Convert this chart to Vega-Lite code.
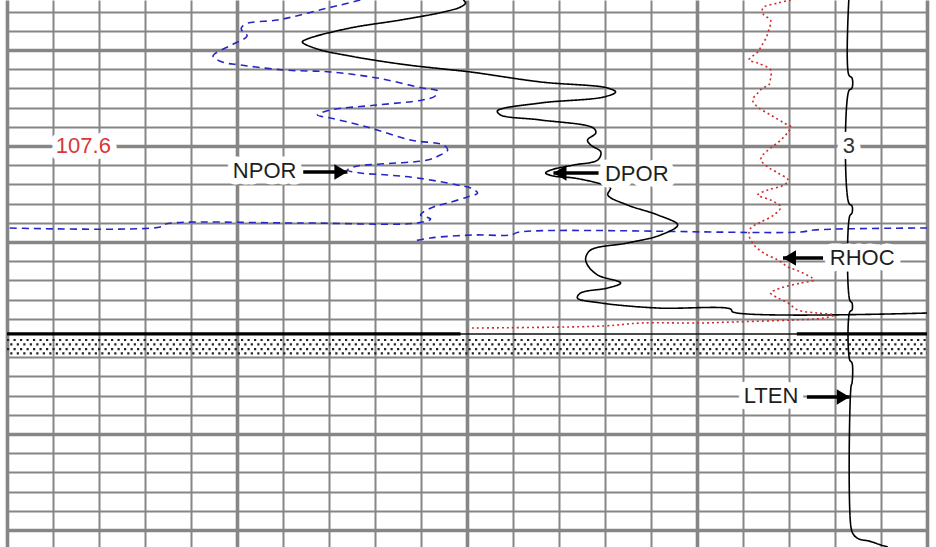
{
  "$schema": "https://vega.github.io/schema/vega-lite/v6.json",
  "width": 920,
  "height": 547,
  "autosize": "none",
  "padding": {"left": 7, "right": 9, "top": 0, "bottom": 0},
  "background": "#ffffff",
  "config": {"view": {"stroke": null}},
  "resolve": {"scale": {"color": "independent"}},
  "datasets": {
    "stipple": [
      {"row": 0, "x": 0, "x_end": 20, "depth": 109.621},
      {"row": 1, "x": 0, "x_end": 20, "depth": 109.667},
      {"row": 2, "x": 0, "x_end": 20, "depth": 109.715},
      {"row": 3, "x": 0, "x_end": 20, "depth": 109.761}
    ],
    "base_thin": [
      {"x": 0, "x_end": 20, "depth": 109.558}
    ],
    "base_heavy": [
      {"x": 0, "x_end": 9.86, "depth": 109.558},
      {"x": 17.17, "x_end": 20, "depth": 109.558}
    ],
    "logs": [
      {"c": "NPOR", "s": "NPOR-1", "i": 1, "x": 7.68, "depth": 106.079},
      {"c": "NPOR", "s": "NPOR-1", "i": 2, "x": 7.25, "depth": 106.131},
      {"c": "NPOR", "s": "NPOR-1", "i": 3, "x": 6.88, "depth": 106.173},
      {"c": "NPOR", "s": "NPOR-1", "i": 4, "x": 6.38, "depth": 106.235},
      {"c": "NPOR", "s": "NPOR-1", "i": 5, "x": 5.88, "depth": 106.288},
      {"c": "NPOR", "s": "NPOR-1", "i": 6, "x": 5.18, "depth": 106.329},
      {"c": "NPOR", "s": "NPOR-1", "i": 7, "x": 5.09, "depth": 106.381},
      {"c": "NPOR", "s": "NPOR-1", "i": 8, "x": 5.22, "depth": 106.454},
      {"c": "NPOR", "s": "NPOR-1", "i": 9, "x": 4.92, "depth": 106.538},
      {"c": "NPOR", "s": "NPOR-1", "i": 10, "x": 4.48, "depth": 106.663},
      {"c": "NPOR", "s": "NPOR-1", "i": 11, "x": 4.68, "depth": 106.725},
      {"c": "NPOR", "s": "NPOR-1", "i": 12, "x": 5.07, "depth": 106.756},
      {"c": "NPOR", "s": "NPOR-1", "i": 13, "x": 6.01, "depth": 106.808},
      {"c": "NPOR", "s": "NPOR-1", "i": 14, "x": 7.03, "depth": 106.829},
      {"c": "NPOR", "s": "NPOR-1", "i": 15, "x": 8.05, "depth": 106.892},
      {"c": "NPOR", "s": "NPOR-1", "i": 16, "x": 9.03, "depth": 106.996},
      {"c": "NPOR", "s": "NPOR-1", "i": 17, "x": 9.36, "depth": 107.027},
      {"c": "NPOR", "s": "NPOR-1", "i": 18, "x": 9.31, "depth": 107.079},
      {"c": "NPOR", "s": "NPOR-1", "i": 19, "x": 9.03, "depth": 107.121},
      {"c": "NPOR", "s": "NPOR-1", "i": 20, "x": 8.05, "depth": 107.173},
      {"c": "NPOR", "s": "NPOR-1", "i": 21, "x": 7.03, "depth": 107.225},
      {"c": "NPOR", "s": "NPOR-1", "i": 22, "x": 6.75, "depth": 107.277},
      {"c": "NPOR", "s": "NPOR-1", "i": 23, "x": 7.03, "depth": 107.308},
      {"c": "NPOR", "s": "NPOR-1", "i": 24, "x": 7.83, "depth": 107.402},
      {"c": "NPOR", "s": "NPOR-1", "i": 25, "x": 8.77, "depth": 107.538},
      {"c": "NPOR", "s": "NPOR-1", "i": 26, "x": 9.49, "depth": 107.590},
      {"c": "NPOR", "s": "NPOR-1", "i": 27, "x": 9.58, "depth": 107.642},
      {"c": "NPOR", "s": "NPOR-1", "i": 28, "x": 9.42, "depth": 107.694},
      {"c": "NPOR", "s": "NPOR-1", "i": 29, "x": 9.14, "depth": 107.746},
      {"c": "NPOR", "s": "NPOR-1", "i": 30, "x": 8.12, "depth": 107.788},
      {"c": "NPOR", "s": "NPOR-1", "i": 31, "x": 7.62, "depth": 107.808},
      {"c": "NPOR", "s": "NPOR-1", "i": 32, "x": 7.40, "depth": 107.850},
      {"c": "NPOR", "s": "NPOR-1", "i": 33, "x": 7.68, "depth": 107.881},
      {"c": "NPOR", "s": "NPOR-1", "i": 34, "x": 8.27, "depth": 107.902},
      {"c": "NPOR", "s": "NPOR-1", "i": 35, "x": 8.92, "depth": 107.933},
      {"c": "NPOR", "s": "NPOR-1", "i": 36, "x": 9.79, "depth": 108.006},
      {"c": "NPOR", "s": "NPOR-1", "i": 37, "x": 10.08, "depth": 108.038},
      {"c": "NPOR", "s": "NPOR-1", "i": 38, "x": 10.23, "depth": 108.090},
      {"c": "NPOR", "s": "NPOR-1", "i": 39, "x": 10.01, "depth": 108.131},
      {"c": "NPOR", "s": "NPOR-1", "i": 40, "x": 9.58, "depth": 108.194},
      {"c": "NPOR", "s": "NPOR-1", "i": 41, "x": 9.27, "depth": 108.235},
      {"c": "NPOR", "s": "NPOR-1", "i": 42, "x": 9.05, "depth": 108.288},
      {"c": "NPOR", "s": "NPOR-1", "i": 43, "x": 8.99, "depth": 108.319},
      {"c": "NPOR", "s": "NPOR-1", "i": 44, "x": 9.21, "depth": 108.360},
      {"c": "NPOR", "s": "NPOR-1", "i": 45, "x": 8.92, "depth": 108.402},
      {"c": "NPOR", "s": "NPOR-1", "i": 46, "x": 6.38, "depth": 108.402},
      {"c": "NPOR", "s": "NPOR-1", "i": 47, "x": 3.44, "depth": 108.413},
      {"c": "NPOR", "s": "NPOR-1", "i": 48, "x": 3.33, "depth": 108.444},
      {"c": "NPOR", "s": "NPOR-1", "i": 49, "x": 0, "depth": 108.454},
      {"c": "NPOR", "s": "NPOR-2", "i": 50, "x": 20, "depth": 108.454},
      {"c": "NPOR", "s": "NPOR-2", "i": 51, "x": 17.54, "depth": 108.475},
      {"c": "NPOR", "s": "NPOR-2", "i": 52, "x": 17.26, "depth": 108.496},
      {"c": "NPOR", "s": "NPOR-2", "i": 53, "x": 11.14, "depth": 108.496},
      {"c": "NPOR", "s": "NPOR-2", "i": 54, "x": 10.95, "depth": 108.527},
      {"c": "NPOR", "s": "NPOR-2", "i": 55, "x": 10.14, "depth": 108.527},
      {"c": "NPOR", "s": "NPOR-2", "i": 56, "x": 9.21, "depth": 108.558},
      {"c": "NPOR", "s": "NPOR-2", "i": 57, "x": 8.84, "depth": 108.590},

      {"c": "DPOR", "s": "DPOR", "i": 1, "x": 9.92, "depth": 106.079},
      {"c": "DPOR", "s": "DPOR", "i": 2, "x": 9.97, "depth": 106.110},
      {"c": "DPOR", "s": "DPOR", "i": 3, "x": 9.86, "depth": 106.152},
      {"c": "DPOR", "s": "DPOR", "i": 4, "x": 9.49, "depth": 106.204},
      {"c": "DPOR", "s": "DPOR", "i": 5, "x": 8.55, "depth": 106.288},
      {"c": "DPOR", "s": "DPOR", "i": 6, "x": 7.46, "depth": 106.371},
      {"c": "DPOR", "s": "DPOR", "i": 7, "x": 6.53, "depth": 106.485},
      {"c": "DPOR", "s": "DPOR", "i": 8, "x": 6.42, "depth": 106.517},
      {"c": "DPOR", "s": "DPOR", "i": 9, "x": 6.75, "depth": 106.590},
      {"c": "DPOR", "s": "DPOR", "i": 10, "x": 7.46, "depth": 106.663},
      {"c": "DPOR", "s": "DPOR", "i": 11, "x": 8.55, "depth": 106.746},
      {"c": "DPOR", "s": "DPOR", "i": 12, "x": 9.49, "depth": 106.798},
      {"c": "DPOR", "s": "DPOR", "i": 13, "x": 10.08, "depth": 106.829},
      {"c": "DPOR", "s": "DPOR", "i": 14, "x": 11.60, "depth": 106.933},
      {"c": "DPOR", "s": "DPOR", "i": 15, "x": 13.06, "depth": 106.996},
      {"c": "DPOR", "s": "DPOR", "i": 16, "x": 13.23, "depth": 107.038},
      {"c": "DPOR", "s": "DPOR", "i": 17, "x": 12.97, "depth": 107.090},
      {"c": "DPOR", "s": "DPOR", "i": 18, "x": 11.60, "depth": 107.152},
      {"c": "DPOR", "s": "DPOR", "i": 19, "x": 10.66, "depth": 107.235},
      {"c": "DPOR", "s": "DPOR", "i": 20, "x": 10.73, "depth": 107.277},
      {"c": "DPOR", "s": "DPOR", "i": 21, "x": 11.60, "depth": 107.329},
      {"c": "DPOR", "s": "DPOR", "i": 22, "x": 12.75, "depth": 107.413},
      {"c": "DPOR", "s": "DPOR", "i": 23, "x": 12.80, "depth": 107.465},
      {"c": "DPOR", "s": "DPOR", "i": 24, "x": 12.62, "depth": 107.538},
      {"c": "DPOR", "s": "DPOR", "i": 25, "x": 12.69, "depth": 107.590},
      {"c": "DPOR", "s": "DPOR", "i": 26, "x": 12.91, "depth": 107.663},
      {"c": "DPOR", "s": "DPOR", "i": 27, "x": 12.84, "depth": 107.746},
      {"c": "DPOR", "s": "DPOR", "i": 28, "x": 12.32, "depth": 107.798},
      {"c": "DPOR", "s": "DPOR", "i": 29, "x": 11.82, "depth": 107.850},
      {"c": "DPOR", "s": "DPOR", "i": 30, "x": 11.71, "depth": 107.881},
      {"c": "DPOR", "s": "DPOR", "i": 31, "x": 11.88, "depth": 107.913},
      {"c": "DPOR", "s": "DPOR", "i": 32, "x": 12.32, "depth": 107.933},
      {"c": "DPOR", "s": "DPOR", "i": 33, "x": 12.91, "depth": 107.996},
      {"c": "DPOR", "s": "DPOR", "i": 34, "x": 13.12, "depth": 108.038},
      {"c": "DPOR", "s": "DPOR", "i": 35, "x": 13.06, "depth": 108.110},
      {"c": "DPOR", "s": "DPOR", "i": 36, "x": 13.49, "depth": 108.215},
      {"c": "DPOR", "s": "DPOR", "i": 37, "x": 14.15, "depth": 108.319},
      {"c": "DPOR", "s": "DPOR", "i": 38, "x": 14.58, "depth": 108.423},
      {"c": "DPOR", "s": "DPOR", "i": 39, "x": 14.21, "depth": 108.527},
      {"c": "DPOR", "s": "DPOR", "i": 40, "x": 13.49, "depth": 108.610},
      {"c": "DPOR", "s": "DPOR", "i": 41, "x": 12.69, "depth": 108.683},
      {"c": "DPOR", "s": "DPOR", "i": 42, "x": 12.58, "depth": 108.767},
      {"c": "DPOR", "s": "DPOR", "i": 43, "x": 12.62, "depth": 108.840},
      {"c": "DPOR", "s": "DPOR", "i": 44, "x": 12.84, "depth": 108.944},
      {"c": "DPOR", "s": "DPOR", "i": 45, "x": 13.34, "depth": 109.027},
      {"c": "DPOR", "s": "DPOR", "i": 46, "x": 13.06, "depth": 109.079},
      {"c": "DPOR", "s": "DPOR", "i": 47, "x": 12.47, "depth": 109.131},
      {"c": "DPOR", "s": "DPOR", "i": 48, "x": 12.40, "depth": 109.183},
      {"c": "DPOR", "s": "DPOR", "i": 49, "x": 12.91, "depth": 109.235},
      {"c": "DPOR", "s": "DPOR", "i": 50, "x": 14.15, "depth": 109.288},
      {"c": "DPOR", "s": "DPOR", "i": 51, "x": 15.73, "depth": 109.298},
      {"c": "DPOR", "s": "DPOR", "i": 52, "x": 15.78, "depth": 109.329},
      {"c": "DPOR", "s": "DPOR", "i": 53, "x": 20, "depth": 109.340},

      {"c": "RHOC", "s": "RHOC", "i": 1, "x": 17.04, "depth": 106.079},
      {"c": "RHOC", "s": "RHOC", "i": 2, "x": 16.76, "depth": 106.110},
      {"c": "RHOC", "s": "RHOC", "i": 3, "x": 16.43, "depth": 106.163},
      {"c": "RHOC", "s": "RHOC", "i": 4, "x": 16.45, "depth": 106.235},
      {"c": "RHOC", "s": "RHOC", "i": 5, "x": 16.60, "depth": 106.288},
      {"c": "RHOC", "s": "RHOC", "i": 6, "x": 16.56, "depth": 106.392},
      {"c": "RHOC", "s": "RHOC", "i": 7, "x": 16.50, "depth": 106.475},
      {"c": "RHOC", "s": "RHOC", "i": 8, "x": 16.39, "depth": 106.569},
      {"c": "RHOC", "s": "RHOC", "i": 9, "x": 16.32, "depth": 106.621},
      {"c": "RHOC", "s": "RHOC", "i": 10, "x": 16.13, "depth": 106.704},
      {"c": "RHOC", "s": "RHOC", "i": 11, "x": 16.32, "depth": 106.735},
      {"c": "RHOC", "s": "RHOC", "i": 12, "x": 16.60, "depth": 106.808},
      {"c": "RHOC", "s": "RHOC", "i": 13, "x": 16.60, "depth": 106.892},
      {"c": "RHOC", "s": "RHOC", "i": 14, "x": 16.56, "depth": 106.965},
      {"c": "RHOC", "s": "RHOC", "i": 15, "x": 16.43, "depth": 106.996},
      {"c": "RHOC", "s": "RHOC", "i": 16, "x": 16.32, "depth": 107.048},
      {"c": "RHOC", "s": "RHOC", "i": 17, "x": 16.21, "depth": 107.121},
      {"c": "RHOC", "s": "RHOC", "i": 18, "x": 16.32, "depth": 107.194},
      {"c": "RHOC", "s": "RHOC", "i": 19, "x": 16.60, "depth": 107.277},
      {"c": "RHOC", "s": "RHOC", "i": 20, "x": 16.89, "depth": 107.360},
      {"c": "RHOC", "s": "RHOC", "i": 21, "x": 17.04, "depth": 107.402},
      {"c": "RHOC", "s": "RHOC", "i": 22, "x": 16.98, "depth": 107.454},
      {"c": "RHOC", "s": "RHOC", "i": 23, "x": 16.82, "depth": 107.538},
      {"c": "RHOC", "s": "RHOC", "i": 24, "x": 16.60, "depth": 107.621},
      {"c": "RHOC", "s": "RHOC", "i": 25, "x": 16.43, "depth": 107.694},
      {"c": "RHOC", "s": "RHOC", "i": 26, "x": 16.39, "depth": 107.746},
      {"c": "RHOC", "s": "RHOC", "i": 27, "x": 16.54, "depth": 107.819},
      {"c": "RHOC", "s": "RHOC", "i": 28, "x": 16.76, "depth": 107.881},
      {"c": "RHOC", "s": "RHOC", "i": 29, "x": 16.98, "depth": 107.954},
      {"c": "RHOC", "s": "RHOC", "i": 30, "x": 16.89, "depth": 108.006},
      {"c": "RHOC", "s": "RHOC", "i": 31, "x": 16.54, "depth": 108.058},
      {"c": "RHOC", "s": "RHOC", "i": 32, "x": 16.32, "depth": 108.110},
      {"c": "RHOC", "s": "RHOC", "i": 33, "x": 16.60, "depth": 108.163},
      {"c": "RHOC", "s": "RHOC", "i": 34, "x": 16.82, "depth": 108.235},
      {"c": "RHOC", "s": "RHOC", "i": 35, "x": 16.67, "depth": 108.319},
      {"c": "RHOC", "s": "RHOC", "i": 36, "x": 16.39, "depth": 108.392},
      {"c": "RHOC", "s": "RHOC", "i": 37, "x": 16.17, "depth": 108.454},
      {"c": "RHOC", "s": "RHOC", "i": 38, "x": 16.13, "depth": 108.527},
      {"c": "RHOC", "s": "RHOC", "i": 39, "x": 16.24, "depth": 108.631},
      {"c": "RHOC", "s": "RHOC", "i": 40, "x": 16.45, "depth": 108.715},
      {"c": "RHOC", "s": "RHOC", "i": 41, "x": 16.76, "depth": 108.788},
      {"c": "RHOC", "s": "RHOC", "i": 42, "x": 16.98, "depth": 108.860},
      {"c": "RHOC", "s": "RHOC", "i": 43, "x": 17.26, "depth": 108.913},
      {"c": "RHOC", "s": "RHOC", "i": 44, "x": 17.54, "depth": 108.996},
      {"c": "RHOC", "s": "RHOC", "i": 45, "x": 17.26, "depth": 109.027},
      {"c": "RHOC", "s": "RHOC", "i": 46, "x": 16.82, "depth": 109.079},
      {"c": "RHOC", "s": "RHOC", "i": 47, "x": 16.60, "depth": 109.131},
      {"c": "RHOC", "s": "RHOC", "i": 48, "x": 16.76, "depth": 109.183},
      {"c": "RHOC", "s": "RHOC", "i": 49, "x": 16.98, "depth": 109.235},
      {"c": "RHOC", "s": "RHOC", "i": 50, "x": 17.19, "depth": 109.308},
      {"c": "RHOC", "s": "RHOC", "i": 51, "x": 17.63, "depth": 109.340},
      {"c": "RHOC", "s": "RHOC", "i": 52, "x": 17.98, "depth": 109.360},
      {"c": "RHOC", "s": "RHOC", "i": 53, "x": 17.76, "depth": 109.392},
      {"c": "RHOC", "s": "RHOC", "i": 54, "x": 17.04, "depth": 109.413},
      {"c": "RHOC", "s": "RHOC", "i": 55, "x": 15.80, "depth": 109.433},
      {"c": "RHOC", "s": "RHOC", "i": 56, "x": 15.08, "depth": 109.444},
      {"c": "RHOC", "s": "RHOC", "i": 57, "x": 13.78, "depth": 109.444},
      {"c": "RHOC", "s": "RHOC", "i": 58, "x": 12.97, "depth": 109.475},
      {"c": "RHOC", "s": "RHOC", "i": 59, "x": 10.08, "depth": 109.496},

      {"c": "LTEN", "s": "LTEN", "i": 1, "x": 18.30, "depth": 106.079},
      {"c": "LTEN", "s": "LTEN", "i": 2, "x": 18.30, "depth": 106.860},
      {"c": "LTEN", "s": "LTEN", "i": 3, "x": 18.37, "depth": 106.892},
      {"c": "LTEN", "s": "LTEN", "i": 4, "x": 18.37, "depth": 106.996},
      {"c": "LTEN", "s": "LTEN", "i": 5, "x": 18.30, "depth": 107.027},
      {"c": "LTEN", "s": "LTEN", "i": 6, "x": 18.30, "depth": 108.194},
      {"c": "LTEN", "s": "LTEN", "i": 7, "x": 18.37, "depth": 108.225},
      {"c": "LTEN", "s": "LTEN", "i": 8, "x": 18.37, "depth": 108.298},
      {"c": "LTEN", "s": "LTEN", "i": 9, "x": 18.32, "depth": 108.329},
      {"c": "LTEN", "s": "LTEN", "i": 10, "x": 18.32, "depth": 109.204},
      {"c": "LTEN", "s": "LTEN", "i": 11, "x": 18.37, "depth": 109.235},
      {"c": "LTEN", "s": "LTEN", "i": 12, "x": 18.37, "depth": 109.308},
      {"c": "LTEN", "s": "LTEN", "i": 13, "x": 18.32, "depth": 109.329},
      {"c": "LTEN", "s": "LTEN", "i": 14, "x": 18.32, "depth": 109.829},
      {"c": "LTEN", "s": "LTEN", "i": 15, "x": 18.37, "depth": 109.860},
      {"c": "LTEN", "s": "LTEN", "i": 16, "x": 18.37, "depth": 110.069},
      {"c": "LTEN", "s": "LTEN", "i": 17, "x": 18.35, "depth": 110.100},
      {"c": "LTEN", "s": "LTEN", "i": 18, "x": 18.35, "depth": 111.579},
      {"c": "LTEN", "s": "LTEN", "i": 19, "x": 18.41, "depth": 111.652},
      {"c": "LTEN", "s": "LTEN", "i": 20, "x": 18.52, "depth": 111.694},
      {"c": "LTEN", "s": "LTEN", "i": 21, "x": 18.74, "depth": 111.715},
      {"c": "LTEN", "s": "LTEN", "i": 22, "x": 19.00, "depth": 111.756},
      {"c": "LTEN", "s": "LTEN", "i": 23, "x": 19.15, "depth": 111.777}
    ],
    "arrows": [
      {"label": "NPOR", "x": 6.44, "tip": 7.40, "depth": 107.871, "dir": "right"},
      {"label": "DPOR", "x": 12.86, "tip": 11.88, "depth": 107.881, "dir": "left"},
      {"label": "RHOC", "x": 17.74, "tip": 16.87, "depth": 108.767, "dir": "left"},
      {"label": "LTEN", "x": 17.39, "tip": 18.32, "depth": 110.215, "dir": "right"}
    ],
    "labels": [
      {"text": "NPOR", "x": 5.60, "depth": 107.860, "kind": "curve"},
      {"text": "DPOR", "x": 13.69, "depth": 107.892, "kind": "curve"},
      {"text": "RHOC", "x": 18.59, "depth": 108.767, "kind": "curve"},
      {"text": "LTEN", "x": 16.61, "depth": 110.204, "kind": "curve"},
      {"text": "107.6", "x": 1.66, "depth": 107.6, "kind": "depth"},
      {"text": "3", "x": 18.30, "depth": 107.6, "kind": "scale"}
    ]
  },
  "encoding": {
    "x": {
      "field": "x",
      "type": "quantitative",
      "scale": {"domain": [0, 20], "nice": false, "zero": false},
      "axis": {
        "values": [0, 1, 2, 3, 4, 5, 6, 7, 8, 9, 10, 11, 12, 13, 14, 15, 16, 17, 18, 19, 20],
        "grid": true,
        "labels": false,
        "ticks": false,
        "domain": false,
        "title": null,
        "gridColor": "#868686",
        "gridOpacity": 1,
        "gridWidth": {"condition": {"test": "datum.value % 5 === 0", "value": 3.6}, "value": 2}
      }
    },
    "y": {
      "field": "depth",
      "type": "quantitative",
      "scale": {"domain": [106.0792, 111.7771], "reverse": true, "nice": false, "zero": false},
      "axis": {
        "values": [106.2, 106.4, 106.6, 106.8, 107.0, 107.2, 107.4, 107.6, 107.8, 108.0, 108.2, 108.4, 108.6, 108.8, 109.0, 109.2, 109.4, 109.8, 110.0, 110.2, 110.4, 110.6, 110.8, 111.0, 111.2, 111.4, 111.6],
        "grid": true,
        "labels": false,
        "ticks": false,
        "domain": false,
        "title": null,
        "gridColor": "#868686",
        "gridOpacity": 1,
        "gridWidth": {"condition": {"test": "abs((datum.value * 5) % 5 - 3) < 0.01", "value": 3.6}, "value": 2}
      }
    }
  },
  "layer": [
    {
      "data": {"name": "stipple"},
      "transform": [{"filter": "datum.row % 2 === 0"}],
      "mark": {"type": "rule", "color": "#222222", "strokeWidth": 2.2, "strokeDash": [2.2, 4.3], "strokeDashOffset": 0},
      "encoding": {"x2": {"field": "x_end"}}
    },
    {
      "data": {"name": "stipple"},
      "transform": [{"filter": "datum.row % 2 === 1"}],
      "mark": {"type": "rule", "color": "#222222", "strokeWidth": 2.2, "strokeDash": [2.2, 4.3], "strokeDashOffset": 3.25},
      "encoding": {"x2": {"field": "x_end"}}
    },
    {
      "data": {"name": "base_thin"},
      "mark": {"type": "rule", "color": "#111111", "strokeWidth": 1.6},
      "encoding": {"x2": {"field": "x_end"}}
    },
    {
      "data": {"name": "base_heavy"},
      "mark": {"type": "rule", "color": "#000000", "strokeWidth": 3.2},
      "encoding": {"x2": {"field": "x_end"}}
    },
    {
      "data": {"name": "logs"},
      "mark": {"type": "line", "strokeWidth": 1.6, "strokeCap": "butt", "interpolate": "catmull-rom", "clip": true},
      "encoding": {
        "order": {"field": "i", "type": "quantitative"},
        "detail": {"field": "s", "type": "nominal"},
        "color": {
          "field": "c",
          "type": "nominal",
          "scale": {"domain": ["NPOR", "DPOR", "RHOC", "LTEN"], "range": ["#2626c8", "#000000", "#d02a2a", "#000000"]},
          "legend": null
        },
        "strokeDash": {
          "field": "c",
          "type": "nominal",
          "scale": {"domain": ["NPOR", "DPOR", "RHOC", "LTEN"], "range": [[7, 5], [1, 0], [2, 3], [1, 0]]},
          "legend": null
        }
      }
    },
    {
      "data": {"name": "labels"},
      "mark": {"type": "text", "font": "Liberation Sans", "fontSize": 22, "align": "center", "baseline": "middle", "fill": "#ffffff", "stroke": "#ffffff", "strokeWidth": 13, "strokeJoin": "round"},
      "encoding": {"text": {"field": "text"}}
    },
    {
      "data": {"name": "arrows"},
      "mark": {"type": "rule", "color": "#000000", "strokeWidth": 3.6},
      "encoding": {"x2": {"field": "tip"}}
    },
    {
      "data": {"name": "arrows"},
      "mark": {"type": "point", "filled": true, "color": "#000000", "opacity": 1, "strokeWidth": 0},
      "encoding": {
        "x": {"field": "tip", "type": "quantitative"},
        "shape": {
          "field": "dir",
          "type": "nominal",
          "scale": {"domain": ["right", "left"], "range": ["M0,0L-1,-0.6L-1,0.6Z", "M0,0L1,-0.6L1,0.6Z"]},
          "legend": null
        },
        "size": {"value": 676}
      }
    },
    {
      "data": {"name": "labels"},
      "mark": {"type": "text", "font": "Liberation Sans", "fontSize": 22, "align": "center", "baseline": "middle"},
      "encoding": {
        "text": {"field": "text"},
        "color": {
          "field": "kind",
          "type": "nominal",
          "scale": {"domain": ["curve", "depth", "scale"], "range": ["#1e1e1e", "#d8383a", "#333333"]},
          "legend": null
        }
      }
    }
  ]
}
